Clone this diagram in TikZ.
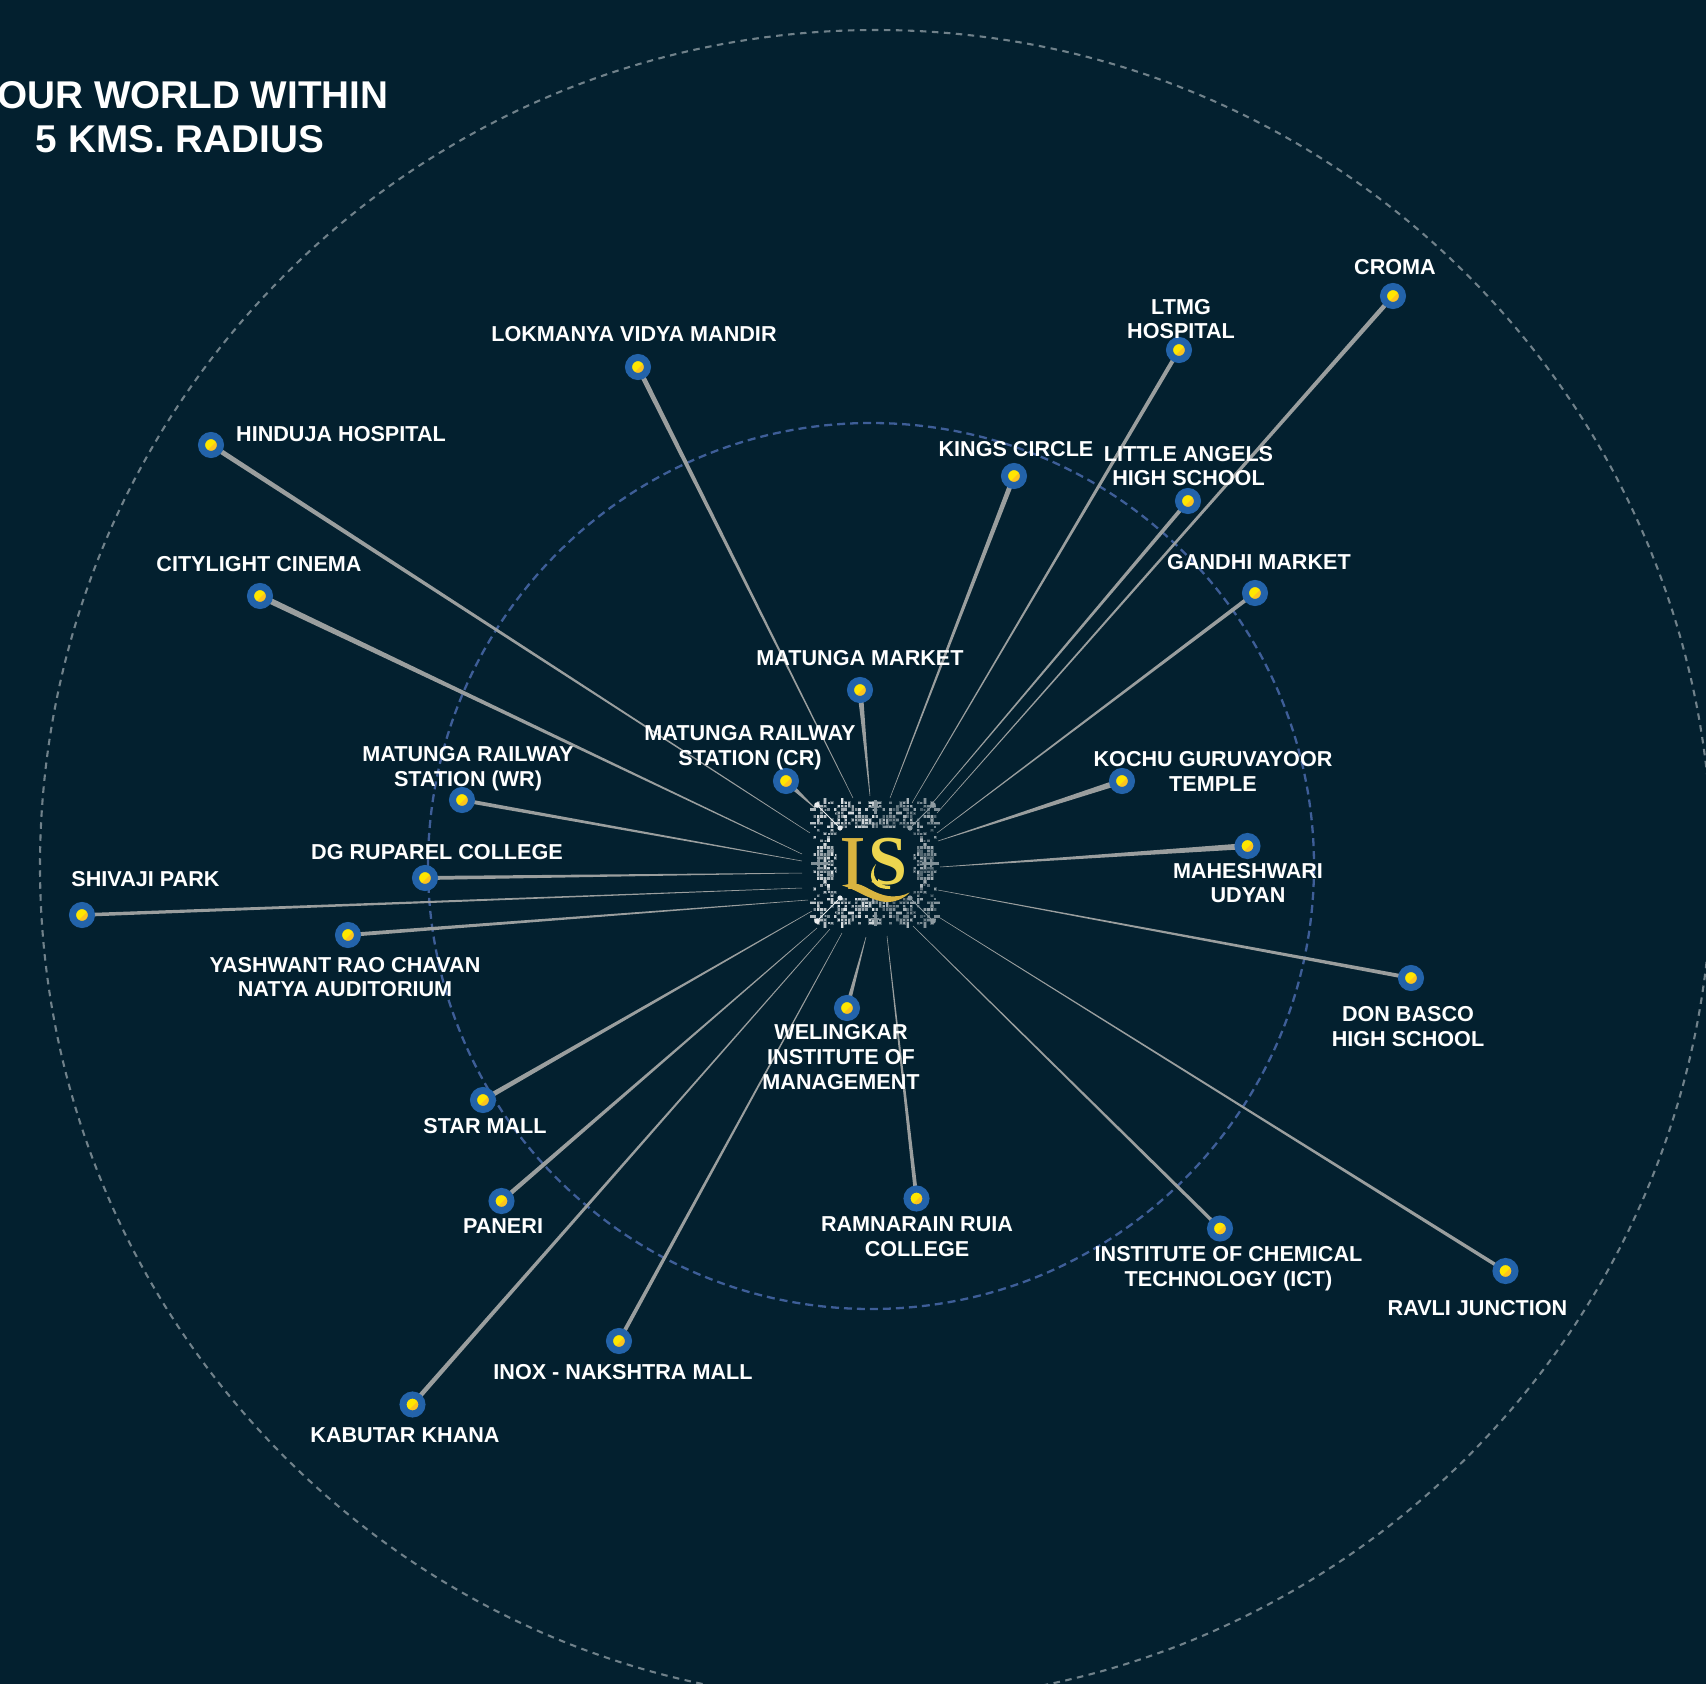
\documentclass[tikz,border=0pt]{standalone}
\usepackage{fontspec}
\setmainfont{Liberation Sans}
\newfontfamily\lsfont{Liberation Serif}
\usetikzlibrary{calc}
\definecolor{bgc}{HTML}{03202F}
\definecolor{ringc}{HTML}{2363AA}
\definecolor{yelA}{HTML}{FFE600}
\definecolor{yelB}{HTML}{FCC21F}
\definecolor{spokec}{HTML}{9A9E9E}
\definecolor{outerc}{HTML}{70818A}
\definecolor{innerc}{HTML}{3E5E98}
\definecolor{goldA}{HTML}{D9B440}
\definecolor{goldB}{HTML}{EDD54F}
\pgfdeclarehorizontalshading{twotone}{100bp}{color(0bp)=(yelA); color(52bp)=(yelA); color(52.01bp)=(yelB); color(100bp)=(yelB)}
\tikzset{
  poi/.style={circle,draw=ringc,line width=7pt,minimum size=19pt,inner sep=0pt,shading=twotone,shading angle=-45},
  lab/.style={text=white,align=center,inner sep=0pt,font=\bfseries\fontsize{21.6}{24.7}\selectfont},
  ttl/.style={text=white,align=center,inner sep=0pt,font=\bfseries\fontsize{38.7}{44}\selectfont},
  spoke/.style={fill=spokec},
  outerring/.style={draw=outerc,line width=2.1pt,dash pattern=on 6.5pt off 5.5pt},
  innerring/.style={draw=innerc,line width=2.3pt,dash pattern=on 8pt off 5pt},
}
% tapered connector: wide at the point of interest, thin at the hub
\newcommand{\conn}[3]{\fill[spoke] ($(#1)!#3*0.5pt!90:(#2)$) -- ($(#1)!#3*0.5pt!-90:(#2)$) -- ($(#2)!0.25pt!90:(#1)$) -- ($(#2)!0.25pt!-90:(#1)$) -- cycle;}
\begin{document}
\begin{tikzpicture}[x=1pt,y=-1pt]
\path[use as bounding box] (0,0) rectangle (1706,1684);
\fill[bgc] (0,0) rectangle (1706,1684);
\clip (0,0) rectangle (1706,1684);

% rings
\draw[outerring] (876,866) circle[radius=836];
\draw[innerring] (871,866) circle[radius=443];

\begin{scope}[yshift=-1pt]
% points of interest (positions only; drawn later on top of the spokes)
\path
 (211,444) coordinate (hinduja)
 (260,595) coordinate (city)
 (462,799) coordinate (wr)
 (425,877) coordinate (dg)
 (82,914) coordinate (shivaji)
 (348,934) coordinate (yash)
 (483,1099) coordinate (star)
 (501.5,1200) coordinate (paneri)
 (412.5,1403.5) coordinate (kabutar)
 (619,1340) coordinate (inox)
 (638,366) coordinate (lok)
 (860,689) coordinate (market)
 (786,780) coordinate (cr)
 (847,1007) coordinate (wel)
 (1014,475) coordinate (kings)
 (1179,349) coordinate (ltmg)
 (1188,500) coordinate (little)
 (1255,592) coordinate (gandhi)
 (1393,295) coordinate (croma)
 (1122,780) coordinate (kochu)
 (1247.5,845) coordinate (mahesh)
 (1411,977) coordinate (don)
 (1220,1227.5) coordinate (ict)
 (1505.5,1270) coordinate (ravli)
 (916.5,1197.5) coordinate (ruia);

% hub ends of the connectors
\path
 (810,832) coordinate (hHinduja)
 (802,853) coordinate (hCity)
 (802,860) coordinate (hWr)
 (802,872) coordinate (hDg)
 (802,887) coordinate (hShivaji)
 (808,899) coordinate (hYash)
 (812,910) coordinate (hStar)
 (817,927) coordinate (hPaneri)
 (830,928) coordinate (hKabutar)
 (842,932) coordinate (hInox)
 (866,936) coordinate (hWel)
 (887,935) coordinate (hRuia)
 (913,925) coordinate (hIct)
 (937,915) coordinate (hRavli)
 (938,889) coordinate (hDon)
 (940,866) coordinate (hMahesh)
 (938,840) coordinate (hKochu)
 (937,832) coordinate (hGandhi)
 (937,812) coordinate (hCroma)
 (930,805) coordinate (hLittle)
 (912,802) coordinate (hLtmg)
 (890,797) coordinate (hKings)
 (870,795) coordinate (hMarket)
 (853,797) coordinate (hLok)
 (815,807) coordinate (hCr);

\conn{hinduja}{hHinduja}{5}
\conn{city}{hCity}{6}
\conn{wr}{hWr}{4}
\conn{dg}{hDg}{4}
\conn{shivaji}{hShivaji}{3.6}
\conn{yash}{hYash}{4}
\conn{star}{hStar}{5}
\conn{paneri}{hPaneri}{4.6}
\conn{kabutar}{hKabutar}{4.6}
\conn{inox}{hInox}{4}
\conn{wel}{hWel}{4.5}
\conn{ruia}{hRuia}{4}
\conn{ict}{hIct}{3.5}
\conn{ravli}{hRavli}{3.6}
\conn{don}{hDon}{4}
\conn{mahesh}{hMahesh}{6}
\conn{kochu}{hKochu}{6}
\conn{gandhi}{hGandhi}{4}
\conn{croma}{hCroma}{4.6}
\conn{little}{hLittle}{4}
\conn{ltmg}{hLtmg}{4.2}
\conn{kings}{hKings}{5}
\conn{market}{hMarket}{5.5}
\conn{lok}{hLok}{5}
\conn{cr}{hCr}{5.5}

% markers
\foreach \p in {hinduja,city,wr,dg,shivaji,yash,star,paneri,kabutar,inox,lok,market,cr,wel,kings,ltmg,little,gandhi,croma,kochu,mahesh,don,ict,ravli,ruia}
  \node[poi] (n\p) at (\p) {};

% labels
\node[lab] (lHinduja) at (341,433) {HINDUJA HOSPITAL};
\node[lab] (lCity) at (259,563) {CITYLIGHT CINEMA};
\node[lab] (lWr) at (468,768) {MATUNGA RAILWAY\\STATION (WR)};
\node[lab] (lDg) at (437,851) {DG RUPAREL COLLEGE};
\node[lab] (lShivaji) at (145.5,878) {SHIVAJI PARK};
\node[lab] (lYash) at (345,976) {YASHWANT RAO CHAVAN\\NATYA AUDITORIUM};
\node[lab] (lStar) at (485,1125) {STAR MALL};
\node[lab] (lPaneri) at (503,1225) {PANERI};
\node[lab] (lKabutar) at (405,1434) {KABUTAR KHANA};
\node[lab] (lInox) at (623,1371.5) {INOX - NAKSHTRA MALL};
\node[lab] (lLok) at (634,333) {LOKMANYA VIDYA MANDIR};
\node[lab] (lMarket) at (860,657) {MATUNGA MARKET};
\node[lab] (lCr) at (750,746.5) {MATUNGA RAILWAY\\STATION (CR)};
\node[lab] (lWel) at (841,1056) {WELINGKAR\\INSTITUTE OF\\MANAGEMENT};
\node[lab] (lRuia) at (917,1236) {RAMNARAIN RUIA\\COLLEGE};
\node[lab] (lKings) at (1016,448) {KINGS CIRCLE};
\node[lab] (lLtmg) at (1181,318) {LTMG\\HOSPITAL};
\node[lab] (lLittle) at (1188.5,465) {LITTLE ANGELS\\HIGH SCHOOL};
\node[lab] (lGandhi) at (1259,561) {GANDHI MARKET};
\node[lab] (lCroma) at (1395,266) {CROMA};
\node[lab] (lKochu) at (1213,770.5) {KOCHU GURUVAYOOR\\TEMPLE};
\node[lab] (lMahesh) at (1248,882) {MAHESHWARI\\UDYAN};
\node[lab] (lDon) at (1408,1025.5) {DON BASCO\\HIGH SCHOOL};
\node[lab] (lIct) at (1228.5,1267.5) {INSTITUTE OF CHEMICAL\\TECHNOLOGY (ICT)};
\node[lab] (lRavli) at (1477.5,1307) {RAVLI JUNCTION};
\end{scope}
\node[ttl] (title) at (180,117) {\phantom{Y}OUR WORLD WITHIN\\5 KMS. RADIUS};

% logo: ornamental square, mirrored in both axes
\begin{scope}[shift={(875,863)}]
\foreach \i in {0,...,17}{
  \foreach \j in {0,...,17}{
    \pgfmathtruncatemacro{\hashv}{mod(mod(\i*\i*\i,19)*3+\j*\j*7+\i*\j*11+\i*13+\j*5,17)}
    \pgfmathtruncatemacro{\keep}{(\hashv<9)&&((\i>10)||(\j>9))?1:0}
    \ifnum\keep=1
      \pgfmathtruncatemacro{\tone}{28+mod(\i*5+\j*9,40)}
      \pgfmathsetmacro{\wdth}{\hashv==0?5.6:(\hashv==1?1.5:2.2)}
      \pgfmathsetmacro{\hght}{\hashv==2?5.6:(\hashv==1?1.5:2.2)}
      \foreach \sx in {-1,1}{
        \foreach \sy in {-1,1}{
          \pgfmathtruncatemacro{\toneb}{\sx<0?\tone+20:\tone}
          \fill[white!\toneb!bgc,draw=white!\toneb!bgc,draw opacity=0.4,line width=0.9pt] ({\sx*(\i*3.45+0.6)},{\sy*(\j*3.45+0.6)}) rectangle ++({\sx*\wdth},{\sy*\hght});
        }
      }
    \fi
  }
}
% diagonals from the corners
\foreach \sx/\shd in {-1/92,1/55}{
  \foreach \sy in {-1,1}{
    \draw[white!\shd!bgc,line width=1pt] ({\sx*58},{\sy*58}) -- ({\sx*35},{\sy*35});
    \fill[white!\shd!bgc] ({\sx*58},{\sy*58}) circle[radius=2.8];
    \fill[white!\shd!bgc] ({\sx*35},{\sy*35}) circle[radius=2.6];
  }
}
% crosses at the edge midpoints
\foreach \sx in {-1,1}{
  \draw[white!50!bgc,line width=3pt] ({\sx*64},0) -- ({\sx*47},0);
  \draw[white!50!bgc,line width=2.5pt] ({\sx*56},-4) -- ({\sx*56},4);
  \draw[white!50!bgc,line width=3pt] (0,{\sx*63}) -- (0,{\sx*49});
  \draw[white!50!bgc,line width=2.5pt] (-4,{\sx*56}) -- (4,{\sx*56});
}
\end{scope}

% logo letters
\begin{scope}
\clip (842,830) rectangle (862.5,888);
\node[anchor=base west,inner sep=0pt,text=goldA,font=\lsfont\fontsize{90}{90}\selectfont] (logoL) at (838,897) {\makebox[24pt][l]{L}};
\end{scope}
\fill[goldA] (842,885.5) .. controls (856,889) and (868,900) .. (886,902) .. controls (895,902.5) and (905,898) .. (909.5,892.5) .. controls (903,896) and (896,897) .. (888,896) .. controls (875,894) and (866,886) .. (858,884) -- (849,884) -- cycle;
\node[inner sep=0pt,text=goldB,font=\lsfont\bfseries\fontsize{70}{70}\selectfont] (logoS) at (888,862) {S};
\fill[bgc] (864,866) rectangle (877.5,881);
\fill[goldB] (876,864) .. controls (867,873) and (869,889.5) .. (890,889) -- (890,886) .. controls (877,886) and (870,875) .. (876,864) -- cycle;
\end{tikzpicture}
\end{document}
